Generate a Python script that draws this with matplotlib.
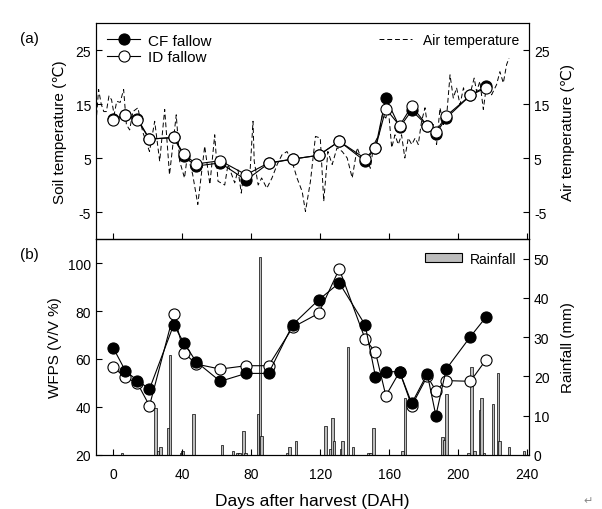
import matplotlib
matplotlib.use('Agg')
import matplotlib.pyplot as plt
from matplotlib.patches import Patch

plt.rcParams['font.family'] = ['Liberation Sans', 'DejaVu Sans']
plt.rcParams['font.size'] = 10
plt.rcParams['axes.unicode_minus'] = False

# sampling days (DAH)
days = [0, 7, 14, 21, 35, 41, 48, 62, 77, 90, 104, 119, 131,
        146, 152, 158, 166, 173, 182, 187, 193, 207, 216]

# soil temperature (C)
soil_cf = [12.2, 13.0, 12.3, 8.5, 8.8, 5.3, 3.5, 4.1, 0.9, 4.0, 4.8, 5.5, 8.1,
           4.4, 6.9, 16.1, 10.7, 13.8, 11.0, 9.5, 12.4, 16.6, 18.3]
soil_id = [12.0, 12.9, 12.0, 8.5, 8.8, 5.7, 3.9, 4.5, 1.9, 4.1, 4.8, 5.5, 8.1,
           4.9, 6.9, 14.1, 11.0, 14.6, 11.0, 9.9, 12.8, 16.6, 18.0]

# WFPS (%)
wfps_cf = [64.6, 55.1, 51.0, 47.5, 74.2, 66.7, 58.9, 50.7, 54.0, 54.0, 74.3, 84.6, 91.7,
           74.2, 52.6, 54.7, 54.7, 41.5, 53.8, 36.4, 55.8, 69.3, 77.4]
wfps_id = [56.5, 52.4, 49.9, 40.5, 78.8, 62.6, 57.9, 55.8, 57.2, 57.2, 73.2, 79.0, 97.5,
           68.3, 62.8, 44.7, 54.7, 40.5, 52.8, 46.8, 51.0, 50.7, 59.6]

# daily air temperature (C)
air_day = [-10, -8.5, -7, -5.5, -4, -2.5, -1, 0.5, 2, 4, 6, 7.6, 9.5, 11.4, 14.3, 17, 21, 24,
           26.9, 29.8, 32.6, 36.5, 38.5, 41.3, 43, 46, 49, 53, 56, 58.8, 60.7, 64.6, 66.5,
           70.4, 72.3, 74.2, 75.5, 77.5, 79.4, 81, 81.7, 84, 86, 89, 92, 95, 97.8, 100.7,
           103.6, 106.5, 109.5, 111.4, 114.3, 117.2, 120, 122, 124.4, 126.9, 129.7, 132.7,
           135.6, 138.5, 141.4, 144.3, 147.2, 149, 151, 154, 156, 158, 159.4, 161.4, 163.3,
           165.2, 167.1, 169, 171, 173, 175, 176.8, 178.7, 180.7, 182.6, 185.5, 187.4, 189.4,
           191.3, 193.3, 195.2, 197.1, 199, 201, 203, 204.8, 206.7, 209.2, 210.6, 212.5,
           214.5, 216.4, 219.3, 222.2, 224.1, 226.1, 228, 229.4]
air_temp = [11.5, 17.7, 15.0, 13.6, 13.6, 16.5, 15.8, 13.0, 15.5, 15.3, 17.7, 11.2, 10.2, 13.6,
            14.3, 9.9, 6.2, 11.8, 4.4, 14.0, 1.9, 13.0, 4.4, 1.3, 5.6, 2.0, -3.6, 7.2, 0.1,
            9.3, 0.7, 0.0, 3.8, 0.4, 2.8, -1.5, 1.9, 0.0, 3.1, 11.8, 4.4, 0.0, 1.3, -0.6,
            1.3, 3.8, 5.6, 6.2, 4.4, 1.3, -1.2, -4.9, 0.7, 9.0, 8.7, -3.0, 6.2, 3.8, 6.9,
            6.2, 5.0, 1.3, 6.9, 4.4, 4.7, 3.1, 7.5, 9.3, 13.0, 12.4, 14.3, 6.9, 9.3, 7.5,
            9.3, 5.0, 8.7, 7.5, 8.7, 7.5, 11.8, 14.3, 9.9, 11.2, 7.5, 14.3, 11.2, 13.0,
            20.4, 16.1, 18.0, 14.9, 18.0, 16.1, 16.7, 19.8, 17.3, 19.2, 14.0, 18.6, 16.7,
            18.6, 21.0, 18.9, 22.3, 23.5]

# daily rainfall (mm)
rain_day = [5, 24.5, 26, 27.5, 32, 33, 39.5, 40, 46.5, 63, 69.5, 72, 73, 75.5, 76.5, 84, 85,
            86, 101, 102, 106, 123, 126, 127, 128, 132, 133, 136, 139, 148, 149, 151, 167.5,
            169, 191, 192, 193, 206, 207.5, 209.5, 212.5, 213.5, 215, 220, 223, 224, 229.5, 238]
rain_mm = [0.5, 12.0, 1.0, 2.0, 6.8, 25.5, 0.5, 1.0, 10.5, 2.5, 1.0, 0.5, 0.5, 6.0, 0.5, 10.5,
           50.5, 4.9, 0.5, 2.0, 3.5, 7.3, 1.5, 9.4, 3.5, 1.5, 3.5, 27.5, 2.0, 0.4, 0.4, 6.9,
           0.9, 14.5, 4.5, 3.9, 15.5, 0.5, 22.4, 1.0, 11.5, 14.5, 0.5, 12.9, 20.9, 3.5, 2.0, 1.0]

fig = plt.figure(figsize=(6.02, 5.10), dpi=100)
ax1 = fig.add_axes([0.1595, 0.5294, 0.7193, 0.4235])
ax2 = fig.add_axes([0.1595, 0.1059, 0.7193, 0.4235], sharex=ax1)

mk = dict(marker='o', ms=8, mec='black', mew=0.8, lw=0.8, color='black')

# (a) temperatures
ax1r = ax1.twinx()
ax1r.plot(air_day, air_temp, color='black', lw=0.7, ls=(0, (5, 3)), label='Air temperature')
ax1r.set_ylim(-10, 30)
ax1r.set_yticks([-5, 5, 15, 25])
ax1r.set_ylabel('Air temperature (℃)', fontsize=11, labelpad=8)

ax1.set_zorder(ax1r.get_zorder() + 1)
ax1.patch.set_visible(False)
ax1.plot(days, soil_cf, mfc='black', label='CF fallow', zorder=3, **mk)
ax1.plot(days, soil_id, mfc='white', label='ID fallow', zorder=4, **mk)
ax1.set_ylim(-10, 30)
ax1.set_yticks([-5, 5, 15, 25])
ax1.set_ylabel('Soil temperature (℃)', fontsize=11, labelpad=6)
ax1.tick_params(labelbottom=False)

ax1.legend(loc='upper left', frameon=False, fontsize=11, handlelength=2.2,
           borderaxespad=0.3, labelspacing=0.15, handletextpad=0.5,
           bbox_to_anchor=(0.0, 1.0))
ax1r.legend(loc='upper right', frameon=False, fontsize=10, handlelength=2.4,
            borderaxespad=0.3, handletextpad=0.8)

# (b) WFPS and rainfall
ax2r = ax2.twinx()
ax2r.bar(rain_day, rain_mm, width=1.5, color='#bdbdbd', edgecolor='black', lw=0.5,
         label='Rainfall')
ax2r.set_ylim(0, 55)
ax2r.set_yticks([0, 10, 20, 30, 40, 50])
ax2r.set_ylabel('Rainfall (mm)', fontsize=11, labelpad=8)

ax2.set_zorder(ax2r.get_zorder() + 1)
ax2.patch.set_visible(False)
ax2.plot(days, wfps_id, mfc='white', zorder=3, **mk)
ax2.plot(days, wfps_cf, mfc='black', zorder=4, **mk)
ax2.set_ylim(20, 110)
ax2.set_yticks([20, 40, 60, 80, 100])
ax2.set_ylabel('WFPS (V/V %)', fontsize=11, labelpad=4)
ax2.set_xlim(-10, 241)
ax2.set_xticks([0, 40, 80, 120, 160, 200, 240])
ax2.set_xlabel('Days after harvest (DAH)', fontsize=12.5, labelpad=8)

ax2r.legend(handles=[Patch(facecolor='#bdbdbd', edgecolor='black', lw=0.8, label='Rainfall')],
            loc='upper right', frameon=False, fontsize=10, handlelength=2.6,
            handleheight=0.6, borderaxespad=0.5, handletextpad=0.6)

for a in (ax1, ax2, ax1r, ax2r):
    a.tick_params(direction='in', length=4, width=0.8, labelsize=10, top=False)
    for s in a.spines.values():
        s.set_linewidth(0.8)
ax2.tick_params(axis='x', pad=9)

fig.text(0.033, 0.915, '(a)', fontsize=11)
fig.text(0.033, 0.493, '(b)', fontsize=11)
fig.text(0.970, 0.012, '↵', fontsize=8, color='#888888')

fig.savefig('out.png', dpi=100)
